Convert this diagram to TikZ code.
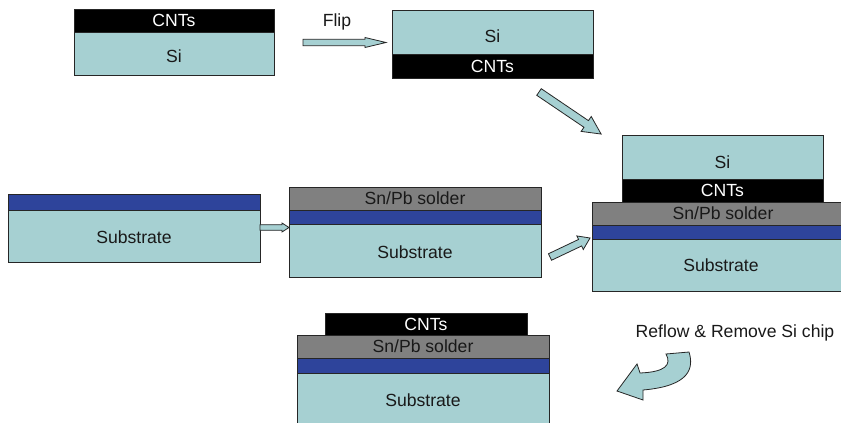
\documentclass[tikz,border=0pt]{standalone}
\usepackage{fontspec}
\setmainfont{Liberation Sans}
\definecolor{si}{RGB}{166,208,210}
\definecolor{sol}{RGB}{128,128,128}
\definecolor{mtl}{RGB}{46,68,155}
\definecolor{txt}{RGB}{25,25,25}
\tikzset{
 layer/.style={draw=black!85, line width=0.9pt, anchor=north west, inner sep=0pt, outer sep=0pt, font=\fontsize{17.6}{20}\selectfont},
 silayer/.style={layer, fill=si, text=txt},
 cntlayer/.style={layer, fill=black, text=white},
 sollayer/.style={layer, fill=sol, text=txt},
 mtllayer/.style={layer, fill=mtl},
 lbl/.style={font=\fontsize{17.6}{20}\selectfont, text=txt, inner sep=0pt},
 blockarrow/.style={draw=black!85, line width=0.8pt, fill=si, line join=miter},
}
\newcommand\blkarrow[7]{\draw[blockarrow, shift={(#1,#2)}, rotate=#3] (0,-#5) -- ({#4-#7},-#5) -- ({#4-#7},-#6) -- (#4,0) -- ({#4-#7},#6) -- ({#4-#7},#5) -- (0,#5) -- cycle;}
\newcommand\lowertxt[2]{\raisebox{-#1}[\height][\depth]{#2}}
\begin{document}
\begin{tikzpicture}[x=1pt,y=-1pt]
\useasboundingbox[fill=white] (0,0) rectangle (841,423);
% top-left stack
\node[cntlayer, minimum width=200, minimum height=23] (cnt1) at (74,9) {CNTs};
\node[silayer, minimum width=200, minimum height=43] (si1) at (74,32) {\lowertxt{3pt}{Si}};
% top-right stack
\node[silayer, minimum width=201, minimum height=44] (si2) at (392,10) {\lowertxt{4pt}{Si}};
\node[cntlayer, minimum width=201, minimum height=24] (cnt2) at (392,54) {CNTs};
% left middle stack
\node[mtllayer, minimum width=252, minimum height=16] (mtl3) at (8,194) {};
\node[silayer, minimum width=252, minimum height=52] (sub3) at (8,210) {\lowertxt{1pt}{Substrate}};
% middle stack
\node[sollayer, minimum width=252, minimum height=23] (sol4) at (289,187) {Sn/Pb solder};
\node[mtllayer, minimum width=252, minimum height=14] (mtl4) at (289,210) {};
\node[silayer, minimum width=252, minimum height=53] (sub4) at (289,224) {\lowertxt{2pt}{Substrate}};
% right stack
\node[silayer, minimum width=201, minimum height=44] (si5) at (622,135) {\lowertxt{5pt}{Si}};
\node[cntlayer, minimum width=201, minimum height=23] (cnt5) at (622,179) {CNTs};
\node[sollayer, minimum width=262, minimum height=23] (sol5) at (592,202) {Sn/Pb solder};
\node[mtllayer, minimum width=262, minimum height=14] (mtl5) at (592,225) {};
\node[silayer, minimum width=258, minimum height=52] (sub5) at (592,239) {Substrate};
% bottom stack
\node[cntlayer, minimum width=202, minimum height=22] (cnt6) at (325,313) {CNTs};
\node[sollayer, minimum width=252, minimum height=23] (sol6) at (297,335) {Sn/Pb solder};
\node[mtllayer, minimum width=252, minimum height=15] (mtl6) at (297,358) {};
\node[silayer, minimum width=252, minimum height=55] (sub6) at (297,373) {Substrate};
% labels
\node[lbl] (flip) at (337,22) {Flip};
\node[lbl] (reflow) at (735,333) {Reflow \& Remove Si chip};
% block arrows: x y angle length shafthalf headhalf headlen
\blkarrow{303}{42.5}{0}{83}{3.2}{5}{21}
\blkarrow{539}{92}{-34.1}{75}{4}{9}{18}
\blkarrow{260}{227.5}{0}{29}{2.8}{4.5}{7}
\blkarrow{550}{257}{25.4}{44.3}{3.6}{7.5}{11}
% curved arrow
\draw[blockarrow] (666,354) -- (689,352) .. controls (694,368) and (690,386) .. (643,390) -- (643,400) -- (617,391) -- (637,364) -- (640,373) .. controls (665,372) and (672,365) .. cycle;
\end{tikzpicture}
\end{document}
